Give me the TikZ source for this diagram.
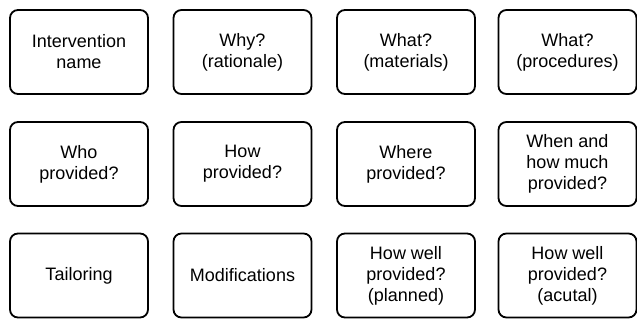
\documentclass[tikz,border=0pt]{standalone}
\usepackage{fontspec}
\setmainfont{Liberation Sans}
\begin{document}
\begin{tikzpicture}[x=1pt,y=-1pt,
  box/.style={draw=black,line width=1.8pt,rounded corners=8pt,align=center,
    minimum width=138pt,minimum height=84pt,inner sep=0pt,
    font=\fontsize{18}{21}\selectfont}]
\useasboundingbox (0,0) rectangle (637,321);
\node[box] (a1) at (79,52) {Intervention\\name};
\node[box] (a2) at (242.5,52) {Why?\\(rationale)};
\node[box] (a3) at (406,52) {What?\\(materials)};
\node[box] (a4) at (567.5,52) {What?\\(procedures)};
\node[box] (b1) at (79,164) {Who\\provided?};
\node[box] (b2) at (242.5,164) {How\\provided?};
\node[box] (b3) at (406,164) {Where\\provided?};
\node[box] (b4) at (567.5,164) {When and\\how much\\provided?};
\node[box] (c1) at (79,275.5) {Tailoring};
\node[box] (c2) at (242.5,275.5) {Modifications};
\node[box] (c3) at (406,275.5) {How well\\provided?\\(planned)};
\node[box] (c4) at (567.5,275.5) {How well\\provided?\\(acutal)};
\end{tikzpicture}
\end{document}
